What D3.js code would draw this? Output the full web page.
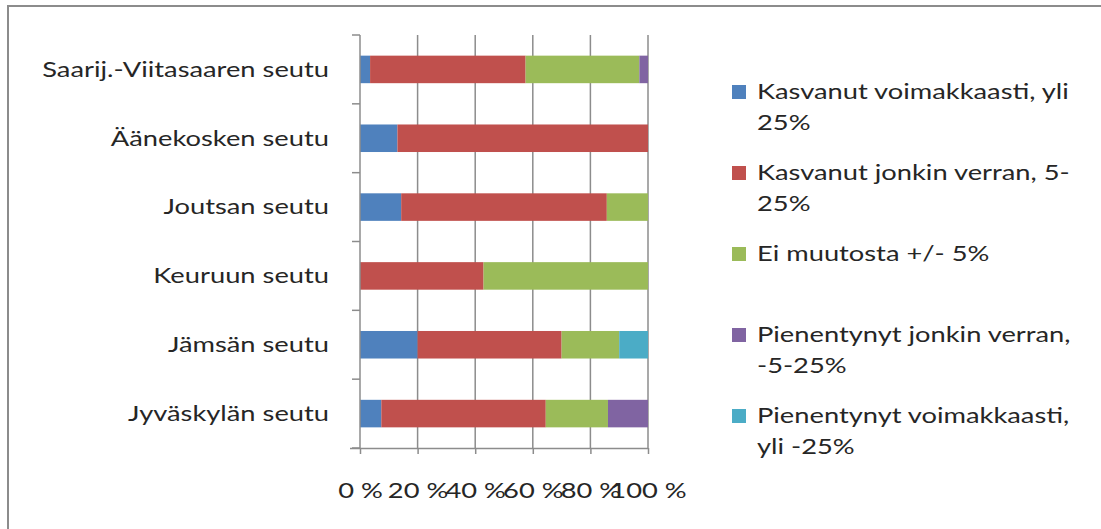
<!DOCTYPE html>
<html>
<head>
<meta charset="utf-8">
<script src="https://cdn.jsdelivr.net/npm/d3@7"></script>
<style>
  body { margin: 0; background: #fff; }
  text { font-family: Lato, "Open Sans", sans-serif; fill: #262626; }
</style>
</head>
<body>
<div id="viz"></div>
<script>
// Data (shares in %)
const regions = ["Saarij.-Viitasaaren seutu", "Äänekosken seutu", "Joutsan seutu",
                 "Keuruun seutu", "Jämsän seutu", "Jyväskylän seutu"];
const seriesNames = [
  ["Kasvanut voimakkaasti, yli", "25%"],
  ["Kasvanut jonkin verran, 5-", "25%"],
  ["Ei muutosta +/- 5%"],
  ["Pienentynyt jonkin verran,", "-5-25%"],
  ["Pienentynyt voimakkaasti,", "yli -25%"]
];
const colors = ["#4f81bd", "#c0504d", "#9bbb59", "#8064a2", "#4bacc6"];
const strongGrowth = [3.5, 13, 14.3, 0, 20, 7.4];
const someGrowth   = [54, 87, 71.4, 42.9, 50, 57.1];
const noChange     = [39.5, 0, 14.3, 57.1, 20, 21.6];
const someDecline  = [3, 0, 0, 0, 0, 13.9];
const strongDecline = [0, 0, 0, 0, 10, 0];
const xTicks = [0, 20, 40, 60, 80, 100];

const width = 1101, height = 529;
const margin = { top: 35, left: 360, right: 453, bottom: 81 };
const stretch = 1.3;   // text in the original is drawn wide
const fontSize = 21;

const svg = d3.select("#viz").append("svg")
    .attr("width", width)
    .attr("height", height);

// outer frame
svg.append("rect")
    .attr("x", 8).attr("y", 6)
    .attr("width", width + 20).attr("height", height + 20)
    .attr("fill", "none").attr("stroke", "#8c8c8c").attr("stroke-width", 2);

const table = regions.map((r, i) => ({
    region: r,
    s0: strongGrowth[i], s1: someGrowth[i], s2: noChange[i],
    s3: someDecline[i], s4: strongDecline[i]
}));
const keys = ["s0", "s1", "s2", "s3", "s4"];
const stacked = d3.stack().keys(keys)(table);

const x = d3.scaleLinear().domain([0, 100]).range([margin.left, width - margin.right]);
const y = d3.scaleBand().domain(regions)
    .range([margin.top, height - margin.bottom])
    .paddingInner(0.6).paddingOuter(0.3);

// gridlines
svg.append("g")
    .selectAll("line")
    .data(xTicks.slice(1))
    .join("line")
    .attr("x1", d => x(d)).attr("x2", d => x(d))
    .attr("y1", margin.top).attr("y2", height - margin.bottom)
    .attr("stroke", "#8c8c8c").attr("stroke-width", 1.5);

// bars
svg.append("g")
    .selectAll("g")
    .data(stacked)
    .join("g")
    .attr("fill", (d, i) => colors[i])
    .selectAll("rect")
    .data(d => d)
    .join("rect")
    .attr("x", d => x(d[0]))
    .attr("y", d => y(d.data.region))
    .attr("width", d => x(d[1]) - x(d[0]))
    .attr("height", y.bandwidth());

// y axis (ticks between categories)
const plotH = height - margin.top - margin.bottom;
const yAxis = svg.append("g");
yAxis.append("line")
    .attr("x1", x(0)).attr("x2", x(0))
    .attr("y1", margin.top).attr("y2", height - margin.bottom)
    .attr("stroke", "#8c8c8c").attr("stroke-width", 1.5);
yAxis.selectAll(".tk")
    .data(d3.range(regions.length + 1))
    .join("line")
    .attr("x1", x(0) - 8).attr("x2", x(0))
    .attr("y1", i => margin.top + i * plotH / regions.length)
    .attr("y2", i => margin.top + i * plotH / regions.length)
    .attr("stroke", "#8c8c8c").attr("stroke-width", 1.5);
yAxis.selectAll("text")
    .data(regions)
    .join("text")
    .attr("transform", d => `translate(329,${y(d) + y.bandwidth() / 2}) scale(${stretch},1)`)
    .attr("dy", "0.35em")
    .attr("text-anchor", "end")
    .attr("font-size", fontSize)
    .text(d => d);

// x axis
const xAxis = svg.append("g")
    .attr("transform", `translate(0,${height - margin.bottom})`)
    .call(d3.axisBottom(x).tickValues(xTicks).tickSize(6).tickSizeOuter(0).tickFormat(d => d + " %"));
xAxis.select(".domain").attr("stroke", "#8c8c8c").attr("stroke-width", 1.5)
    .attr("d", `M${x(0) - 10},0.5H${x(100)}`);
xAxis.selectAll(".tick line").attr("stroke", "#8c8c8c").attr("stroke-width", 1.5);
xAxis.selectAll(".tick text")
    .attr("font-size", fontSize)
    .attr("font-family", "Lato, sans-serif")
    .attr("fill", "#262626")
    .attr("y", null)
    .attr("dy", "0.35em")
    .attr("transform", `translate(0,43) scale(${stretch},1)`);

// legend
const legend = svg.append("g")
    .selectAll("g")
    .data(seriesNames)
    .join("g")
    .attr("transform", (d, i) => `translate(732,${92 + i * 81})`);
legend.append("rect")
    .attr("x", 0).attr("y", -7)
    .attr("width", 14).attr("height", 14)
    .attr("fill", (d, i) => colors[i]);
legend.append("text")
    .attr("transform", `translate(25,0) scale(${stretch},1)`)
    .attr("font-size", fontSize)
    .selectAll("tspan")
    .data(d => d)
    .join("tspan")
    .attr("x", 0)
    .attr("y", (d, i) => i * 31)
    .attr("dy", "0.35em")
    .text(d => d);
</script>
</body>
</html>
